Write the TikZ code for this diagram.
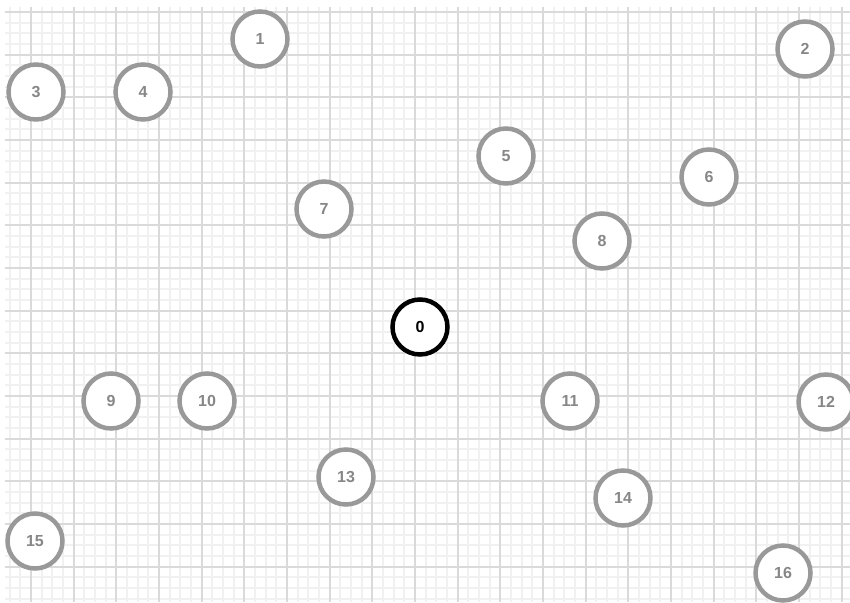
\documentclass[tikz,border=0pt]{standalone}
\usepackage{fontspec}
\setmainfont{Liberation Sans}
\definecolor{minorc}{RGB}{241,241,241}
\definecolor{majorc}{RGB}{218,218,218}
\definecolor{circc}{RGB}{153,153,153}
\definecolor{txtc}{RGB}{135,135,135}
\begin{document}
\begin{tikzpicture}[x=1pt,y=-1pt,
  minorline/.style={draw=minorc,line width=2pt},
  majorline/.style={draw=majorc,line width=2pt},
  nd/.style={circle,draw=circc,line width=4.5pt,minimum size=55pt,inner sep=0pt,fill=white,
    font=\fontsize{16}{16}\selectfont\bfseries,text=txtc},
  root/.style={nd,draw=black,text=black}]
\useasboundingbox (0,0) rectangle (850,602);
\fill[white] (0,0) rectangle (850,602);
\begin{scope}
\clip (5,7) rectangle (850,602);
\foreach \i in {0,...,78} {\pgfmathsetmacro\xx{round(9.667+10.667*\i)}\draw[minorline] (\xx,7) -- (\xx,602);}
\foreach \i in {0,...,55} {\pgfmathsetmacro\yy{round(12+10.667*\i)}\draw[minorline] (5,\yy) -- (850,\yy);}
\foreach \i in {0,...,19} {\pgfmathsetmacro\xx{round(31+42.667*\i)}\draw[majorline] (\xx,7) -- (\xx,602);}
\foreach \i in {0,...,13} {\pgfmathsetmacro\yy{round(12+42.667*\i)}\draw[majorline] (5,\yy) -- (850,\yy);}
\end{scope}
\node[root] (n0) at (420,327) {0};
\node[nd] (n1) at (260,39) {1};
\node[nd] (n2) at (805,49) {2};
\node[nd] (n3) at (36,92) {3};
\node[nd] (n4) at (143,92) {4};
\node[nd] (n5) at (506,156) {5};
\node[nd] (n6) at (709,177) {6};
\node[nd] (n7) at (324,209) {7};
\node[nd] (n8) at (602,241) {8};
\node[nd] (n9) at (111,401) {9};
\node[nd] (n10) at (207,401) {10};
\node[nd] (n11) at (570,401) {11};
\node[nd] (n12) at (826,402) {12};
\node[nd] (n13) at (346,477) {13};
\node[nd] (n14) at (623,498) {14};
\node[nd] (n15) at (35,541) {15};
\node[nd] (n16) at (783,573) {16};
\end{tikzpicture}
\end{document}
